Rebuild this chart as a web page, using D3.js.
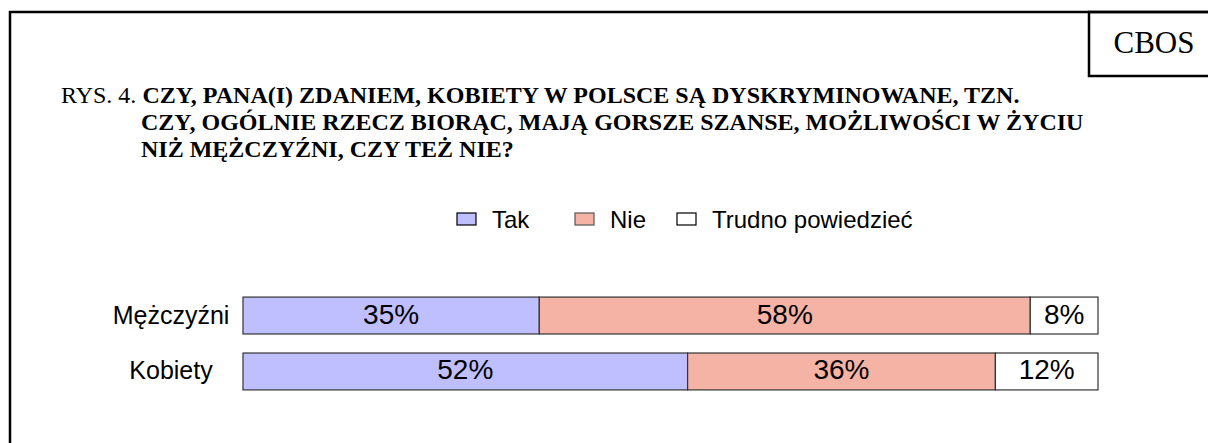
<!DOCTYPE html>
<html><head><meta charset="utf-8">
<script src="https://cdn.jsdelivr.net/npm/d3@7"></script>
<style>html,body{margin:0;padding:0;background:#fff}svg{display:block}</style>
</head><body>
<svg id="c" width="1208" height="443"></svg>
<script>
const categories = ["Mężczyźni", "Kobiety"];
const seriesNames = ["Tak", "Nie", "Trudno powiedzieć"];
const tak = [35, 52];
const nie = [58, 36];
const trudno = [8, 12];
const seriesColors = ["#bfbfff", "#f5b3a6", "#ffffff"];
const titlePrefix = "RYS. 4.";
const titleLines = ["CZY, PANA(I) ZDANIEM, KOBIETY W POLSCE SĄ DYSKRYMINOWANE, TZN.",
  "CZY, OGÓLNIE RZECZ BIORĄC, MAJĄ GORSZE SZANSE, MOŻLIWOŚCI W ŻYCIU",
  "NIŻ MĘŻCZYŹNI, CZY TEŻ NIE?"];

const svg = d3.select("#c");
const sans = "Arial, 'Liberation Sans', sans-serif";
const serif = "'Times New Roman', 'Liberation Serif', serif";

// frame
svg.append("rect").attr("x", 10).attr("y", 12).attr("width", 1240).attr("height", 480)
  .attr("fill", "none").attr("stroke", "#000").attr("stroke-width", 2.5);
svg.append("rect").attr("x", 1089).attr("y", 12).attr("width", 200).attr("height", 64)
  .attr("fill", "none").attr("stroke", "#000").attr("stroke-width", 2.5);
svg.append("text").attr("x", 1154).attr("y", 53).attr("text-anchor", "middle")
  .attr("font-family", serif).attr("font-size", 31).text("CBOS");

// title
const t = svg.append("text").attr("font-family", serif).attr("font-size", 24);
t.append("tspan").attr("x", 61).attr("y", 103).text(titlePrefix + " ");
t.append("tspan").attr("font-weight", "bold").text(titleLines[0]);
titleLines.slice(1).forEach((l, i) => {
  svg.append("text").attr("font-family", serif).attr("font-size", 24).attr("font-weight", "bold")
    .attr("x", 141).attr("y", 103 + (i + 1) * 27).text(l);
});

// legend
const legX = [457, 575, 677];
seriesNames.forEach((n, i) => {
  svg.append("rect").attr("x", legX[i]).attr("y", 213).attr("width", 19).attr("height", 12)
    .attr("fill", seriesColors[i]).attr("stroke", i === 1 ? "#555" : "#000").attr("stroke-width", 1.2);
  svg.append("text").attr("x", legX[i] + 35).attr("y", 228).attr("font-family", sans)
    .attr("font-size", 24).text(n);
});

// bars
const rows = categories.map((c, i) => ({cat: c, Tak: tak[i], Nie: nie[i], Trudno: trudno[i]}));
const keys = ["Tak", "Nie", "Trudno"];
const stack = d3.stack().keys(keys).offset(d3.stackOffsetExpand)(rows);
const x = d3.scaleLinear().domain([0, 1]).range([243, 1098]);
const y = d3.scaleBand().domain(categories).range([287, 400]).paddingInner(0.34).paddingOuter(0.18);

stack.forEach((s, k) => {
  const g = svg.append("g");
  g.selectAll("rect").data(s).join("rect")
    .attr("x", d => x(d[0])).attr("y", d => y(d.data.cat))
    .attr("width", d => x(d[1]) - x(d[0])).attr("height", y.bandwidth())
    .attr("fill", seriesColors[k]).attr("stroke", "#333").attr("stroke-width", 1.2);
  g.selectAll("text").data(s).join("text")
    .attr("x", d => (x(d[0]) + x(d[1])) / 2).attr("y", d => y(d.data.cat) + y.bandwidth() / 2 + 8)
    .attr("text-anchor", "middle").attr("font-family", sans).attr("font-size", 28)
    .text(d => d.data[keys[k]] + "%");
});

// category labels
svg.append("g").selectAll("text").data(categories).join("text")
  .attr("x", 171).attr("y", d => y(d) + y.bandwidth() / 2 + 8)
  .attr("text-anchor", "middle").attr("font-family", sans).attr("font-size", 25).text(d => d);
</script>
</body></html>
